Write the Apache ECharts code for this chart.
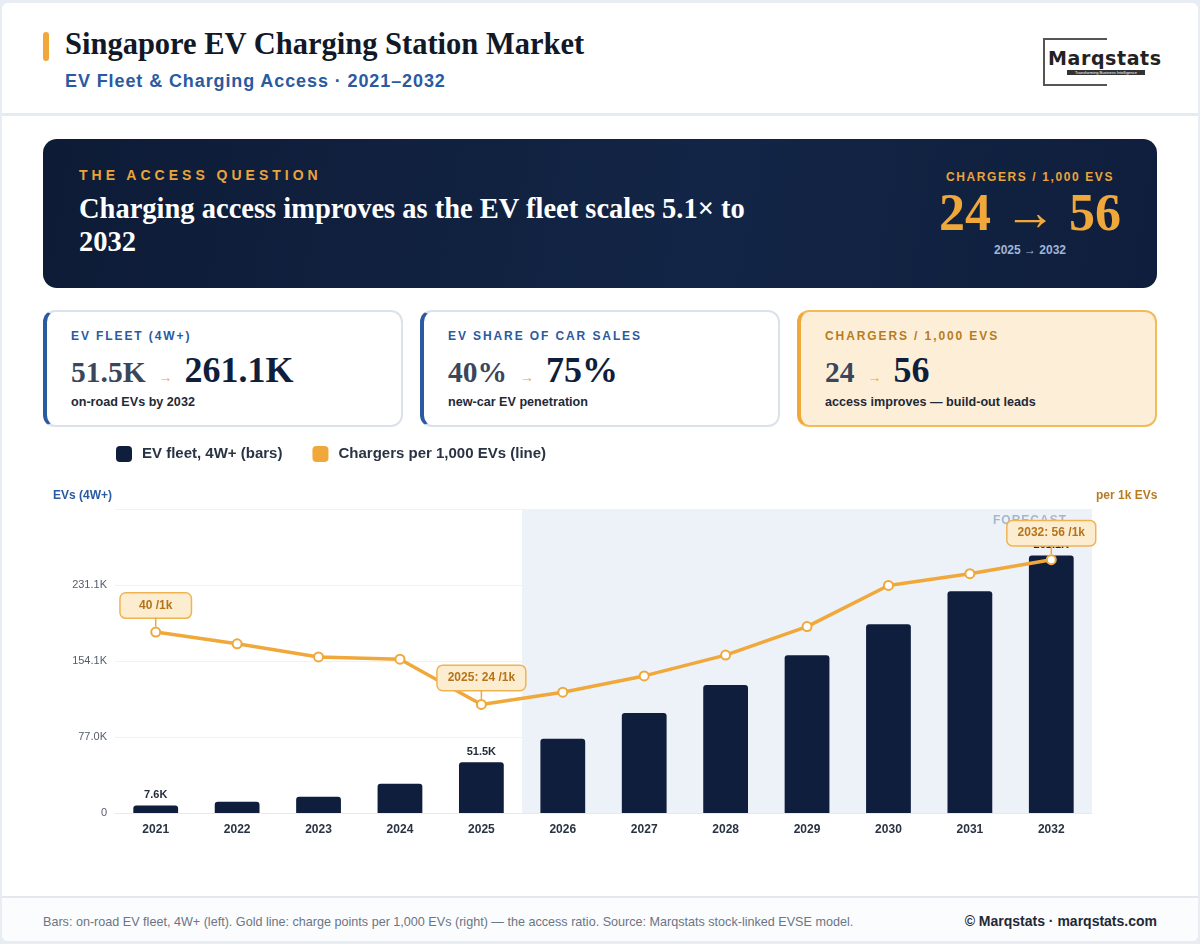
<!DOCTYPE html>
<html>
<head>
<meta charset="utf-8">
<script src="https://cdn.jsdelivr.net/npm/echarts@6/dist/echarts.min.js"></script>
<style>
  body { margin: 0; background: #e8edf3; font-family: "Liberation Sans", Arial, sans-serif; }
  .page { position: absolute; left: 2px; top: 3px; width: 1196px; height: 938px; background: #fff; border-radius: 6px; overflow: hidden; }
  .head { position: absolute; left: 0; top: 0; width: 1196px; height: 110px; border-bottom: 3px solid #e6ebf1; }
  .bar-accent { position: absolute; left: 41px; top: 29px; width: 6px; height: 29px; background: #f0a83a; border-radius: 3px; }
  .title { position: absolute; left: 63px; top: 24px; font: bold 30.5px "Liberation Serif", Georgia, serif; color: #111827; }
  .sub { position: absolute; left: 63px; top: 68px; font: bold 18px "Liberation Sans", Arial, sans-serif; color: #2a5aa0; letter-spacing: 0.9px; }
  .logo { position: absolute; left: 1041px; top: 35px; width: 62px; height: 44px; border: 2px solid #555; border-right: none; }
  .logo .t { position: absolute; left: 3px; top: 7px; font: bold 19px "DejaVu Sans", sans-serif; color: #222; letter-spacing: 0.6px; }
  .logo .tag { position: absolute; left: 22px; top: 30px; width: 78px; height: 5px; background: #333; color: #fff; font: 4px sans-serif; line-height: 5px; text-align: center; overflow: hidden; }
  .banner { position: absolute; left: 41px; top: 136px; width: 1114px; height: 149px; border-radius: 14px; background: linear-gradient(100deg, #0d1b36 0%, #132546 60%, #0f1e3c 100%); }
  .kicker { position: absolute; left: 36px; top: 28px; font: bold 14px "Liberation Sans", Arial, sans-serif; color: #e9a53c; letter-spacing: 4px; }
  .headline { position: absolute; left: 36px; top: 53px; width: 700px; font: bold 28.5px/33px "Liberation Serif", Georgia, serif; color: #fff; }
  .bright { position: absolute; left: 870px; top: 31px; width: 234px; text-align: center; }
  .bright .k { font: bold 12px "Liberation Sans", Arial, sans-serif; color: #e9a53c; letter-spacing: 1.6px; }
  .bright .big { font: bold 52px/56px "Liberation Serif", Georgia, serif; color: #f0a83a; margin-top: 1px; }
  .bright .yr { font: bold 12px "Liberation Sans", Arial, sans-serif; color: #9fb6d8; margin-top: 2px; }
  .card { position: absolute; top: 307px; height: 113px; width: 354px; border: 2px solid #dbe2ec; border-left: 4px solid #2a5aa0; border-radius: 12px; background: #fff; }
  .card.gold { background: #fdefd7; border-color: #f2bb5a; border-left-color: #f0a83a; }
  .card .lab { position: absolute; left: 24px; top: 17px; font: bold 12px "Liberation Sans", Arial, sans-serif; color: #2a5aa0; letter-spacing: 1.9px; }
  .card.gold .lab { color: #b87c20; }
  .card .val { position: absolute; left: 24px; top: 37px; white-space: nowrap; }
  .card .v1 { font: bold 29.5px "Liberation Serif", Georgia, serif; color: #3a475b; }
  .card .arr { font: bold 14px "Liberation Sans", Arial, sans-serif; color: #f0a83a; margin: 0 12px 0 13px; }
  .card .v2 { font: bold 36px "Liberation Serif", Georgia, serif; color: #0f1e3d; }
  .card .note { position: absolute; left: 24px; top: 83px; font: bold 12.6px "Liberation Sans", Arial, sans-serif; color: #1f2937; }
  #chart { position: absolute; left: -2px; top: 427px; width: 1200px; height: 470px; }
  .foot { position: absolute; left: 0; top: 893px; width: 1196px; height: 45px; border-top: 2px solid #e3e8ef; background: #fbfcfd; }
  .foot .src { position: absolute; left: 41px; top: 17px; font: 12.6px "Liberation Sans", Arial, sans-serif; color: #6b7585; }
  .foot .cr { position: absolute; right: 41px; top: 15px; font: bold 14px "Liberation Sans", Arial, sans-serif; color: #1f2937; }
</style>
</head>
<body>
<div class="page">
  <div class="head">
    <div class="bar-accent"></div>
    <div class="title">Singapore EV Charging Station Market</div>
    <div class="sub">EV Fleet &amp; Charging Access · 2021–2032</div>
    <div class="logo"><div class="t">Marqstats</div><div class="tag">Transforming Business Intelligence</div></div>
  </div>
  <div class="banner">
    <div class="kicker">THE ACCESS QUESTION</div>
    <div class="headline">Charging access improves as the EV fleet scales 5.1× to 2032</div>
    <div class="bright">
      <div class="k">CHARGERS / 1,000 EVS</div>
      <div class="big">24 → 56</div>
      <div class="yr">2025 → 2032</div>
    </div>
  </div>
  <div class="card" style="left:41px">
    <div class="lab">EV FLEET (4W+)</div>
    <div class="val"><span class="v1">51.5K</span><span class="arr">→</span><span class="v2">261.1K</span></div>
    <div class="note">on-road EVs by 2032</div>
  </div>
  <div class="card" style="left:418px">
    <div class="lab">EV SHARE OF CAR SALES</div>
    <div class="val"><span class="v1">40%</span><span class="arr">→</span><span class="v2">75%</span></div>
    <div class="note">new-car EV penetration</div>
  </div>
  <div class="card gold" style="left:795px">
    <div class="lab">CHARGERS / 1,000 EVS</div>
    <div class="val"><span class="v1">24</span><span class="arr">→</span><span class="v2">56</span></div>
    <div class="note">access improves — build-out leads</div>
  </div>
  <div class="foot">
    <div class="src">Bars: on-road EV fleet, 4W+ (left). Gold line: charge points per 1,000 EVs (right) — the access ratio. Source: Marqstats stock-linked EVSE model.</div>
    <div class="cr">© Marqstats · marqstats.com</div>
  </div>
</div>
<div id="chart"></div>
<script>
// data (fleet in thousands of EVs)
var years = ['2021', '2022', '2023', '2024', '2025', '2026', '2027', '2028', '2029', '2030', '2031', '2032'];
var evFleet = [7.6, 11.4, 16.5, 29.7, 51.5, 75.3, 101.4, 129.7, 159.8, 191.2, 224.7, 261.1];
var chargersPer1k = [40, 37.4, 34.5, 34.0, 24, 26.7, 30.3, 34.9, 41.2, 50.3, 52.9, 56];
var barLabelIdx = [0, 4, 11];
var calloutIdx = [0, 4, 11];
var forecastFrom = '2026', forecastTo = '2032';

var gold = '#f0a83a', navy = '#0f1e3d';

var barData = evFleet.map(function (v, i) {
  return { value: v, label: { show: barLabelIdx.indexOf(i) >= 0 } };
});
var lineData = chargersPer1k.map(function (v, i) {
  return { value: v, label: { show: calloutIdx.indexOf(i) >= 0 } };
});

var boxStyle = { fontSize: 12, fontWeight: 'bold', color: '#b5741a', backgroundColor: '#fdedd0',
  borderColor: '#f0b352', borderWidth: 1.5, borderRadius: 5, padding: [6, 10, 6, 10] };

var myChart = echarts.init(document.getElementById('chart'));
var option = {
  animation: false,
  textStyle: { fontFamily: '"Liberation Sans", Arial, sans-serif' },
  legend: {
    left: 113, top: 14, itemWidth: 16, itemHeight: 16, itemGap: 30,
    textStyle: { fontSize: 15, fontWeight: 'bold', color: '#2a3344', padding: [0, 0, 0, 5] },
    data: [
      { name: 'EV fleet, 4W+ (bars)', icon: 'roundRect', itemStyle: { color: navy } },
      { name: 'Chargers per 1,000 EVs (line)', icon: 'roundRect', itemStyle: { color: gold, borderWidth: 0 }, lineStyle: { opacity: 0 } }
    ]
  },
  grid: { left: 117, right: 106, top: 82, bottom: 84 },
  xAxis: {
    type: 'category', data: years,
    axisLine: { lineStyle: { color: '#e6eaf0' } },
    axisTick: { show: false },
    axisLabel: { fontSize: 12, fontWeight: 'bold', color: '#2a3344', margin: 11 }
  },
  yAxis: [{
    type: 'value', min: 0, max: 308.12, interval: 77.03,
    name: 'EVs (4W+)', nameLocation: 'end', nameGap: 13,
    nameTextStyle: { align: 'right', fontSize: 12, fontWeight: 'bold', color: '#2a5aa0', verticalAlign: 'middle', padding: [0, 3, 0, 0] },
    axisLabel: { showMaxLabel: false, fontSize: 11, color: '#555d6b', margin: 8,
      formatter: function (v) { return v === 0 ? '0' : v.toFixed(1) + 'K'; } },
    splitLine: { lineStyle: { color: '#eef1f5' } },
    axisLine: { show: false }, axisTick: { show: false }
  }, {
    type: 'value', min: 0, max: 67.2,
    name: 'per 1k EVs', nameLocation: 'end', nameGap: 13,
    nameTextStyle: { align: 'left', fontSize: 12, fontWeight: 'bold', color: '#b87c20', verticalAlign: 'middle', padding: [0, 0, 0, 4] },
    axisLabel: { show: false }, splitLine: { show: false },
    axisLine: { show: false }, axisTick: { show: false }
  }],
  series: [{
    name: 'EV fleet, 4W+ (bars)', type: 'bar', data: barData, barWidth: '55%', z: 2,
    itemStyle: { color: navy, borderRadius: [3, 3, 0, 0] },
    label: { position: 'top', distance: 5, fontSize: 11, fontWeight: 'bold', color: '#1f2937',
      formatter: function (p) { return p.value.toFixed(1) + 'K'; } },
    markArea: {
      silent: true,
      itemStyle: { color: '#edf2f9' },
      label: { show: true, position: 'insideTopRight', distance: 6, offset: [-20, 0], color: '#a8b6ca', fontSize: 12, fontWeight: 'bold',
        formatter: function () { return 'F O R E C A S T'.replace(/ /g, '\u200a'); } },
      data: [[{ xAxis: forecastFrom, name: 'FORECAST' }, { xAxis: forecastTo }]]
    }
  }, {
    name: 'Chargers per 1,000 EVs (line)', type: 'line', yAxisIndex: 1, data: lineData, z: 5,
    symbol: 'emptyCircle', symbolSize: 9,
    itemStyle: { color: gold, borderWidth: 2 },
    lineStyle: { color: gold, width: 3.5 },
    label: {
      position: 'top', distance: 0,
      formatter: function (p) {
        if (p.dataIndex === 0) return '{boxw|' + p.value + ' /1k}\n{stem|}';
        return '{box|' + years[p.dataIndex] + ': ' + p.value + ' /1k}\n{stem|}';
      },
      rich: {
        box: boxStyle,
        boxw: Object.assign({}, boxStyle, { width: 50, align: 'center' }),
        stem: { width: 1.5, height: 9, backgroundColor: gold }
      }
    }
  }]
};
myChart.setOption(option);
</script>
</body>
</html>
